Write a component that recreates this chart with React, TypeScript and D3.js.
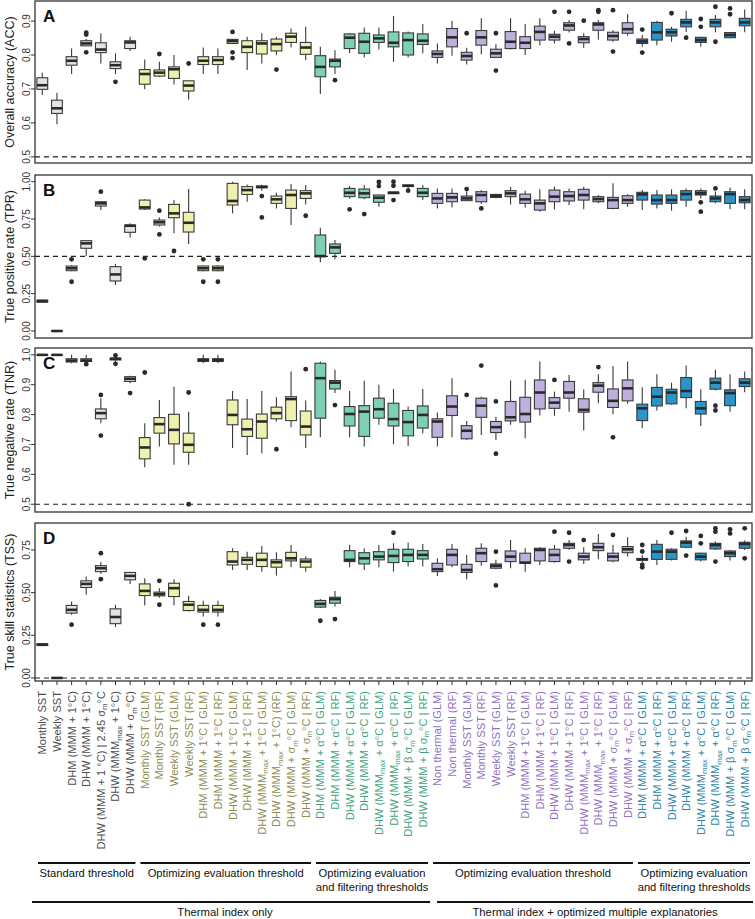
import React from 'react';
import * as d3 from 'd3';

// ---------- categories ----------
const categories: string[] = [
  // Standard threshold
  'Monthly SST', 'Weekly SST', 'DHM (MMM + 1°C)', 'DHW (MMM + 1°C)', 'DHW (MMM + 1 °C) | 2.45 σ{m}°C',
  'DHW (MMM{max} + 1°C)', 'DHW (MMM + σ{m}°C)',
  // Optimizing evaluation threshold
  'Monthly SST (GLM)', 'Monthly SST (RF)', 'Weekly SST (GLM)', 'Weekly SST (RF)',
  'DHM (MMM + 1°C | GLM)', 'DHM (MMM + 1°C | RF)', 'DHW (MMM + 1°C | GLM)', 'DHW (MMM + 1°C | RF)',
  'DHW (MMM{max} + 1°C | GLM)', 'DHW (MMM{max} + 1°C) (RF)', 'DHW (MMM + σ{m}°C | GLM)', 'DHW (MMM + σ{m}°C | RF)',
  // Optimizing evaluation and filtering thresholds
  'DHM (MMM + α°C | GLM)', 'DHM (MMM + α°C | RF)', 'DHW (MMM + α°C | GLM)', 'DHW (MMM + α°C | RF)',
  'DHW (MMM{max} + α°C | GLM)', 'DHW (MMM{max} + α°C | RF)', 'DHW (MMM + β σ{m}°C | GLM)', 'DHW (MMM + β σ{m}°C | RF)',
  // Multiple explanatories: optimizing evaluation threshold
  'Non thermal (GLM)', 'Non thermal (RF)', 'Monthly SST (GLM)', 'Monthly SST (RF)', 'Weekly SST (GLM)', 'Weekly SST (RF)',
  'DHM (MMM + 1°C | GLM)', 'DHM (MMM + 1°C | RF)', 'DHW (MMM + 1°C | GLM)', 'DHW (MMM + 1°C | RF)',
  'DHW (MMM{max} + 1°C | GLM)', 'DHW (MMM{max} + 1°C | RF)', 'DHW (MMM + σ{m}°C | GLM)', 'DHW (MMM + σ{m}°C | RF)',
  // Multiple explanatories: optimizing evaluation and filtering thresholds
  'DHM (MMM + α°C | GLM)', 'DHM (MMM + α°C | RF)', 'DHW (MMM + α°C | GLM)', 'DHW (MMM + α°C | RF)',
  'DHW (MMM{max} + α°C | GLM)', 'DHW (MMM{max} + α°C | RF)', 'DHW (MMM + β σ{m}°C | GLM)', 'DHW (MMM + β σ{m}°C | RF)',
];

const categoryGroup: number[] = [
  0, 0, 0, 0, 0, 0, 0,
  1, 1, 1, 1, 1, 1, 1, 1, 1, 1, 1, 1,
  2, 2, 2, 2, 2, 2, 2, 2,
  3, 3, 3, 3, 3, 3, 3, 3, 3, 3, 3, 3, 3, 3,
  4, 4, 4, 4, 4, 4, 4, 4,
];

const groupLabels: string[][] = [
  ['Standard threshold'],
  ['Optimizing evaluation threshold'],
  ['Optimizing evaluation', 'and filtering thresholds'],
  ['Optimizing evaluation threshold'],
  ['Optimizing evaluation', 'and filtering thresholds'],
];
const groupRanges: number[][] = [[0, 6], [7, 18], [19, 26], [27, 40], [41, 48]];
const superLabels: string[] = ['Thermal index only', 'Thermal index + optimized multiple explanatories'];
const superRanges: number[][] = [[0, 26], [27, 48]];

const fillColors = ['#e3e3e3', '#eef0ad', '#7dcfb6', '#bdb0dc', '#2b94c9'];
const labelColors = ['#4d4d4d', '#8c8c52', '#3ea37c', '#8e72c0', '#2f84a8'];

// ---------- data: [lower whisker, Q1, median, Q3, upper whisker] ----------
const accStats: number[][] = [
  [0.682, 0.699, 0.711, 0.733, 0.748], [0.596, 0.628, 0.643, 0.667, 0.689], [0.744, 0.770, 0.783, 0.795, 0.819],
  [0.827, 0.827, 0.834, 0.842, 0.848], [0.775, 0.807, 0.816, 0.836, 0.864], [0.744, 0.760, 0.770, 0.780, 0.805],
  [0.812, 0.819, 0.837, 0.842, 0.854], [0.699, 0.714, 0.744, 0.757, 0.787], [0.735, 0.738, 0.748, 0.756, 0.780],
  [0.713, 0.731, 0.758, 0.765, 0.800], [0.669, 0.694, 0.710, 0.724, 0.724], [0.744, 0.772, 0.783, 0.795, 0.822],
  [0.744, 0.772, 0.785, 0.795, 0.819], [0.834, 0.834, 0.841, 0.846, 0.846], [0.756, 0.807, 0.824, 0.842, 0.854],
  [0.775, 0.803, 0.834, 0.842, 0.864], [0.800, 0.812, 0.832, 0.847, 0.854], [0.822, 0.837, 0.854, 0.864, 0.878],
  [0.785, 0.802, 0.822, 0.837, 0.883], [0.685, 0.736, 0.765, 0.798, 0.824], [0.744, 0.765, 0.783, 0.788, 0.814],
  [0.805, 0.819, 0.851, 0.862, 0.864], [0.793, 0.805, 0.839, 0.864, 0.881], [0.816, 0.837, 0.849, 0.859, 0.881],
  [0.780, 0.824, 0.836, 0.868, 0.915], [0.793, 0.800, 0.844, 0.865, 0.869], [0.805, 0.831, 0.842, 0.862, 0.891],
  [0.775, 0.793, 0.803, 0.812, 0.834], [0.798, 0.824, 0.852, 0.878, 0.900], [0.772, 0.785, 0.797, 0.808, 0.821],
  [0.802, 0.829, 0.852, 0.872, 0.908], [0.793, 0.793, 0.805, 0.817, 0.832], [0.816, 0.819, 0.839, 0.869, 0.908],
  [0.800, 0.819, 0.836, 0.854, 0.891], [0.829, 0.844, 0.868, 0.885, 0.908], [0.834, 0.844, 0.854, 0.861, 0.871],
  [0.866, 0.873, 0.887, 0.895, 0.903], [0.821, 0.836, 0.847, 0.854, 0.864], [0.846, 0.873, 0.890, 0.895, 0.903],
  [0.839, 0.844, 0.856, 0.867, 0.873], [0.857, 0.864, 0.876, 0.895, 0.921], [0.824, 0.834, 0.840, 0.847, 0.859],
  [0.829, 0.844, 0.867, 0.896, 0.900], [0.839, 0.856, 0.867, 0.876, 0.883], [0.868, 0.883, 0.896, 0.905, 0.930],
  [0.824, 0.837, 0.844, 0.852, 0.854], [0.867, 0.883, 0.896, 0.905, 0.918], [0.849, 0.851, 0.859, 0.866, 0.866],
  [0.867, 0.886, 0.896, 0.908, 0.934],
];
const accOutliers: number[][] = [
  [], [], [], [0.866, 0.860, 0.808], [], [0.721], [], [], [0.803], [], [0.775], [], [],
  [0.868, 0.808, 0.791], [], [], [0.757], [], [], [], [0.726], [], [], [], [], [], [],
  [], [], [0.864], [], [0.864, 0.754], [], [], [], [0.927], [0.927, 0.834], [0.901], [0.932, 0.927],
  [0.932, 0.810], [], [0.875, 0.807], [], [0.923], [0.851], [0.906, 0.883], [0.942, 0.839], [0.937, 0.920], [],
];

const tprStats: number[][] = [
  [0.190, 0.193, 0.200, 0.207, 0.210], [0, 0, 0, 0, 0], [0.400, 0.404, 0.420, 0.435, 0.440],
  [0.502, 0.554, 0.587, 0.605, 0.605], [0.810, 0.837, 0.855, 0.866, 0.866], [0.308, 0.335, 0.379, 0.431, 0.449],
  [0.627, 0.661, 0.705, 0.710, 0.721], [0.810, 0.817, 0.828, 0.877, 0.882], [0.700, 0.710, 0.728, 0.743, 0.760],
  [0.654, 0.759, 0.788, 0.848, 0.877], [0.583, 0.663, 0.725, 0.795, 0.951], [0.400, 0.404, 0.420, 0.435, 0.440],
  [0.400, 0.404, 0.420, 0.435, 0.440], [0.788, 0.844, 0.871, 0.989, 1.000], [0.866, 0.915, 0.944, 0.967, 0.982],
  [0.940, 0.960, 0.965, 0.971, 0.980], [0.821, 0.855, 0.882, 0.904, 0.926], [0.710, 0.821, 0.911, 0.944, 0.984],
  [0.848, 0.888, 0.922, 0.940, 0.978], [0.460, 0.498, 0.502, 0.643, 0.692], [0.480, 0.520, 0.560, 0.583, 0.609],
  [0.888, 0.900, 0.926, 0.955, 0.971], [0.882, 0.893, 0.922, 0.951, 0.978], [0.833, 0.862, 0.893, 0.911, 0.911],
  [0.920, 0.920, 0.926, 0.930, 0.930], [0.950, 0.968, 0.973, 0.978, 0.978], [0.877, 0.900, 0.926, 0.955, 0.978],
  [0.821, 0.855, 0.888, 0.922, 0.955], [0.828, 0.866, 0.895, 0.922, 0.955], [0.873, 0.873, 0.888, 0.904, 0.935],
  [0.850, 0.866, 0.911, 0.933, 0.944], [0.890, 0.895, 0.904, 0.915, 0.920], [0.848, 0.900, 0.922, 0.940, 0.967],
  [0.828, 0.855, 0.882, 0.917, 0.940], [0.799, 0.810, 0.855, 0.877, 0.949], [0.815, 0.866, 0.900, 0.944, 0.967],
  [0.844, 0.871, 0.904, 0.933, 0.955], [0.815, 0.877, 0.911, 0.949, 0.967], [0.855, 0.866, 0.884, 0.900, 0.911],
  [0.815, 0.821, 0.877, 0.895, 0.989], [0.833, 0.855, 0.877, 0.906, 0.917], [0.810, 0.877, 0.915, 0.929, 0.944],
  [0.821, 0.850, 0.877, 0.911, 0.944], [0.806, 0.855, 0.877, 0.911, 0.949], [0.833, 0.877, 0.917, 0.940, 0.955],
  [0.890, 0.911, 0.922, 0.940, 0.955], [0.855, 0.866, 0.888, 0.904, 0.935], [0.815, 0.855, 0.917, 0.933, 0.962],
  [0.815, 0.859, 0.877, 0.900, 0.949],
];
const tprOutliers: number[][] = [
  [], [], [0.480, 0.330], [], [0.933], [], [], [0.487], [0.806, 0.647], [0.536], [], [0.480, 0.330], [0.480, 0.330],
  [], [], [0.904, 0.761], [], [], [0.772], [], [], [0.815], [0.783], [0.998, 0.971], [1.0, 0.973, 0.877], [0.940], [],
  [], [], [0.951], [0.821], [], [], [], [], [], [], [], [], [], [],
  [], [], [], [], [0.862, 0.799], [0.955], [], [],
];

const tnrStats: number[][] = [
  [1, 1, 1, 1, 1], [1, 1, 1, 1, 1], [0.972, 0.976, 0.981, 0.987, 1.000],
  [0.978, 0.978, 0.981, 0.987, 1.000], [0.771, 0.786, 0.805, 0.819, 0.855], [0.975, 0.983, 0.987, 0.989, 0.995],
  [0.905, 0.911, 0.920, 0.927, 0.930], [0.624, 0.652, 0.690, 0.723, 0.771], [0.693, 0.738, 0.768, 0.790, 0.849],
  [0.632, 0.702, 0.749, 0.801, 0.894], [0.632, 0.674, 0.699, 0.738, 0.810], [0.972, 0.978, 0.983, 0.987, 1.000],
  [0.972, 0.978, 0.983, 0.987, 1.000], [0.688, 0.766, 0.799, 0.849, 0.879], [0.665, 0.727, 0.751, 0.785, 0.852],
  [0.671, 0.721, 0.777, 0.802, 0.879], [0.777, 0.786, 0.805, 0.825, 0.858], [0.758, 0.780, 0.852, 0.860, 0.944],
  [0.688, 0.732, 0.760, 0.812, 0.847], [0.724, 0.788, 0.922, 0.972, 0.978], [0.872, 0.886, 0.907, 0.914, 0.950],
  [0.724, 0.762, 0.802, 0.827, 0.879], [0.693, 0.727, 0.810, 0.830, 0.913], [0.766, 0.788, 0.818, 0.855, 0.900],
  [0.701, 0.762, 0.785, 0.838, 0.886], [0.695, 0.729, 0.775, 0.814, 0.827], [0.738, 0.755, 0.799, 0.829, 0.886],
  [0.693, 0.724, 0.777, 0.786, 0.807], [0.724, 0.797, 0.827, 0.863, 0.922], [0.715, 0.719, 0.746, 0.763, 0.779],
  [0.732, 0.791, 0.830, 0.855, 0.860], [0.715, 0.740, 0.758, 0.777, 0.793], [0.766, 0.779, 0.791, 0.844, 0.914],
  [0.721, 0.775, 0.802, 0.858, 0.916], [0.797, 0.819, 0.874, 0.916, 0.978], [0.796, 0.821, 0.840, 0.857, 0.877],
  [0.810, 0.855, 0.874, 0.911, 0.933], [0.747, 0.808, 0.816, 0.853, 0.885], [0.838, 0.875, 0.897, 0.907, 0.935],
  [0.801, 0.824, 0.846, 0.886, 0.963], [0.836, 0.846, 0.888, 0.916, 0.978], [0.754, 0.780, 0.821, 0.835, 0.892],
  [0.814, 0.829, 0.860, 0.891, 0.935], [0.833, 0.836, 0.874, 0.885, 0.907], [0.821, 0.857, 0.879, 0.924, 0.964],
  [0.762, 0.802, 0.821, 0.844, 0.885], [0.881, 0.885, 0.907, 0.922, 0.950], [0.810, 0.830, 0.872, 0.883, 0.935],
  [0.875, 0.894, 0.907, 0.920, 0.944],
];
const tnrOutliers: number[][] = [
  [], [], [], [0.969], [0.866, 0.730], [0.998, 0.970], [0.872], [0.941], [], [], [0.874, 0.5], [], [],
  [], [], [], [0.684], [], [0.952], [], [0.832], [], [], [], [], [], [],
  [], [], [0.866], [0.964], [0.844, 0.669], [], [], [], [0.916], [], [], [0.959], [0.724], [],
  [], [], [], [], [], [0.830, 0.814], [], [],
];

const tssStats: number[][] = [
  [0.185, 0.190, 0.195, 0.200, 0.205], [0, 0, 0, 0, 0], [0.370, 0.380, 0.399, 0.425, 0.448],
  [0.487, 0.530, 0.551, 0.569, 0.594], [0.610, 0.623, 0.643, 0.658, 0.680], [0.298, 0.318, 0.357, 0.405, 0.429],
  [0.551, 0.575, 0.598, 0.618, 0.623], [0.425, 0.483, 0.510, 0.551, 0.584], [0.470, 0.481, 0.491, 0.503, 0.526],
  [0.425, 0.477, 0.526, 0.555, 0.579], [0.390, 0.395, 0.429, 0.448, 0.481], [0.360, 0.386, 0.399, 0.425, 0.452],
  [0.360, 0.386, 0.399, 0.425, 0.452], [0.633, 0.662, 0.682, 0.740, 0.760], [0.633, 0.666, 0.692, 0.707, 0.740],
  [0.623, 0.653, 0.692, 0.731, 0.773], [0.600, 0.649, 0.678, 0.692, 0.736], [0.649, 0.686, 0.701, 0.736, 0.779],
  [0.623, 0.649, 0.682, 0.697, 0.711], [0.410, 0.415, 0.434, 0.454, 0.462], [0.419, 0.438, 0.462, 0.473, 0.510],
  [0.649, 0.682, 0.692, 0.746, 0.779], [0.633, 0.668, 0.701, 0.734, 0.760], [0.649, 0.692, 0.711, 0.740, 0.779],
  [0.623, 0.676, 0.715, 0.754, 0.789], [0.653, 0.682, 0.721, 0.754, 0.793], [0.653, 0.697, 0.721, 0.746, 0.785],
  [0.598, 0.623, 0.637, 0.672, 0.701], [0.649, 0.662, 0.721, 0.754, 0.785], [0.579, 0.618, 0.633, 0.666, 0.721],
  [0.657, 0.682, 0.731, 0.760, 0.789], [0.637, 0.643, 0.657, 0.668, 0.692], [0.643, 0.682, 0.711, 0.744, 0.808],
  [0.623, 0.672, 0.676, 0.731, 0.760], [0.662, 0.686, 0.750, 0.760, 0.766], [0.676, 0.682, 0.721, 0.754, 0.779],
  [0.750, 0.760, 0.779, 0.789, 0.808], [0.668, 0.692, 0.711, 0.731, 0.766], [0.695, 0.746, 0.766, 0.789, 0.843],
  [0.678, 0.686, 0.711, 0.731, 0.779], [0.711, 0.734, 0.754, 0.770, 0.824], [0.675, 0.690, 0.695, 0.700, 0.720],
  [0.662, 0.695, 0.740, 0.783, 0.808], [0.688, 0.695, 0.740, 0.754, 0.760], [0.760, 0.766, 0.793, 0.803, 0.828],
  [0.682, 0.692, 0.711, 0.731, 0.734], [0.750, 0.756, 0.779, 0.789, 0.800], [0.688, 0.711, 0.731, 0.744, 0.750],
  [0.750, 0.760, 0.785, 0.795, 0.805],
];
const tssOutliers: number[][] = [
  [], [], [0.312], [], [0.731, 0.579], [], [], [], [0.569, 0.429], [], [], [0.312], [0.312],
  [], [], [], [], [], [], [0.335], [0.345], [], [], [], [0.851], [], [],
  [], [], [], [], [0.740, 0.542], [], [], [], [0.857], [0.851, 0.682], [0.808], [], [0.838], [],
  [0.779, 0.741, 0.663, 0.648], [], [0.851], [0.861, 0.717], [0.832, 0.789], [0.877, 0.857, 0.682], [0.871, 0.847], [0.877, 0.701],
];

const accTicks = [0.5, 0.6, 0.7, 0.8, 0.9];
const tprTicks = [0, 0.25, 0.5, 0.75, 1];
const tnrTicks = [0.5, 0.6, 0.7, 0.8, 0.9, 1.0];
const tssTicks = [0, 0.25, 0.5, 0.75];

const panels = [
  { letter: 'A', title: 'Overall accuracy (ACC)', stats: accStats, outliers: accOutliers, ticks: accTicks, fmt: '.1f', domain: [0.482, 0.959], top: 1, bottom: 163, ref: 0.5 },
  { letter: 'B', title: 'True positive rate (TPR)', stats: tprStats, outliers: tprOutliers, ticks: tprTicks, fmt: '.2f', domain: [-0.047, 1.045], top: 175, bottom: 338, ref: 0.5 },
  { letter: 'C', title: 'True negative rate (TNR)', stats: tnrStats, outliers: tnrOutliers, ticks: tnrTicks, fmt: '.1f', domain: [0.474, 1.023], top: 348, bottom: 512, ref: 0.5 },
  { letter: 'D', title: 'True skill statistics (TSS)', stats: tssStats, outliers: tssOutliers, ticks: tssTicks, fmt: '.2f', domain: [-0.018, 0.908], top: 523, bottom: 681, ref: 0 },
];

const W = 755;
const H = 919;
const LEFT = 35;
const RIGHT = 752;
const FONT = "'Liberation Sans', Arial, Helvetica, sans-serif";

function RotLabel({ text, x, y, color }: { text: string; x: number; y: number; color: string }) {
  const parts = text.split(/(\{[^}]*\})/).filter((s) => s.length > 0);
  let inSub = false;
  const spans = parts.map((p, i) => {
    if (p.startsWith('{')) {
      inSub = true;
      return (
        <tspan key={i} fontSize={7.8} dy={2.5}>
          {p.slice(1, -1)}
        </tspan>
      );
    }
    const dy = inSub ? -2.5 : 0;
    inSub = false;
    return (
      <tspan key={i} dy={dy}>
        {p}
      </tspan>
    );
  });
  return (
    <text transform={`translate(${x},${y}) rotate(-90)`} textAnchor="end" fill={color} fontSize={11.1} fontFamily={FONT}>
      {spans}
    </text>
  );
}

export default function App() {
  const x = d3.scaleBand<number>().domain(d3.range(categories.length)).range([LEFT, RIGHT]).padding(0);
  const bw = x.bandwidth();
  const boxW = bw * 0.74;

  return (
    <svg width={W} height={H} style={{ position: 'absolute', left: 0, top: 0, background: '#fff' }} fontFamily={FONT}>
      <rect x={0} y={0} width={W} height={H} fill="#fff" />
      {panels.map((p) => {
        const y = d3.scaleLinear().domain(p.domain).range([p.bottom, p.top]);
        const fmt = d3.format(p.fmt);
        const mid = (p.top + p.bottom) / 2;
        return (
          <g key={p.letter}>
            <line x1={LEFT} x2={RIGHT} y1={y(p.ref)} y2={y(p.ref)} stroke="#222" strokeWidth={1.1} strokeDasharray="5,4" />
            {p.stats.map((s, i) => {
              const cx = (x(i) as number) + bw / 2;
              const [lo, q1, med, q3, hi] = s;
              const g = categoryGroup[i];
              return (
                <g key={i}>
                  <line x1={cx} x2={cx} y1={y(hi)} y2={y(q3)} stroke="#3a3a3a" strokeWidth={1.1} />
                  <line x1={cx} x2={cx} y1={y(q1)} y2={y(lo)} stroke="#3a3a3a" strokeWidth={1.1} />
                  <rect
                    x={cx - boxW / 2}
                    y={y(q3)}
                    width={boxW}
                    height={Math.max(0.5, y(q1) - y(q3))}
                    fill={fillColors[g]}
                    stroke="#3a3a3a"
                    strokeWidth={1.1}
                  />
                  <line x1={cx - boxW / 2} x2={cx + boxW / 2} y1={y(med)} y2={y(med)} stroke="#2a2a2a" strokeWidth={2.6} />
                  {p.outliers[i].map((o, k) => (
                    <circle key={k} cx={cx} cy={y(o)} r={2.4} fill="#2a2a2a" />
                  ))}
                </g>
              );
            })}
            <rect x={LEFT} y={p.top} width={RIGHT - LEFT} height={p.bottom - p.top} fill="none" stroke="#333" strokeWidth={1.3} />
            {p.ticks.map((t) => (
              <g key={t}>
                <line x1={LEFT - 4} x2={LEFT} y1={y(t)} y2={y(t)} stroke="#333" strokeWidth={1} />
                <text transform={`translate(${29.5},${y(t)}) rotate(-90)`} textAnchor="middle" fontSize={10} fill="#333">
                  {fmt(t)}
                </text>
              </g>
            ))}
            <text transform={`translate(${13.5},${mid}) rotate(-90)`} textAnchor="middle" fontSize={12.5} fill="#222">
              {p.title}
            </text>
            <text x={43} y={p.top + 21} fontSize={17} fontWeight="bold" fill="#111">
              {p.letter}
            </text>
          </g>
        );
      })}
      {categories.map((c, i) => {
        const cx = (x(i) as number) + bw / 2;
        return (
          <g key={i}>
            <line x1={cx} x2={cx} y1={681} y2={685} stroke="#333" strokeWidth={1} />
            <RotLabel text={c} x={cx + 4} y={691} color={labelColors[categoryGroup[i]]} />
          </g>
        );
      })}
      {groupRanges.map((r, gi) => {
        const x0 = (x(r[0]) as number) + 3;
        const x1 = (x(r[1]) as number) + bw - 2;
        const cxm = (x0 + x1) / 2;
        return (
          <g key={gi}>
            <line x1={x0} x2={x1} y1={863} y2={863} stroke="#111" strokeWidth={2.2} />
            {groupLabels[gi].map((t, k) => (
              <text key={k} x={cxm} y={877 + k * 13.5} textAnchor="middle" fontSize={11.2} fill="#111">
                {t}
              </text>
            ))}
          </g>
        );
      })}
      {superRanges.map((r, si) => {
        const x0 = (x(r[0]) as number) + (si === 0 ? -3 : 7);
        const x1 = (x(r[1]) as number) + bw - (si === 0 ? 0 : -1);
        return (
          <g key={si}>
            <line x1={x0} x2={x1} y1={902} y2={902} stroke="#111" strokeWidth={2.2} />
            <text x={(x0 + x1) / 2 - (si === 0 ? 6 : 0)} y={915.5} textAnchor="middle" fontSize={11.3} fill="#111">
              {superLabels[si]}
            </text>
          </g>
        );
      })}
    </svg>
  );
}
